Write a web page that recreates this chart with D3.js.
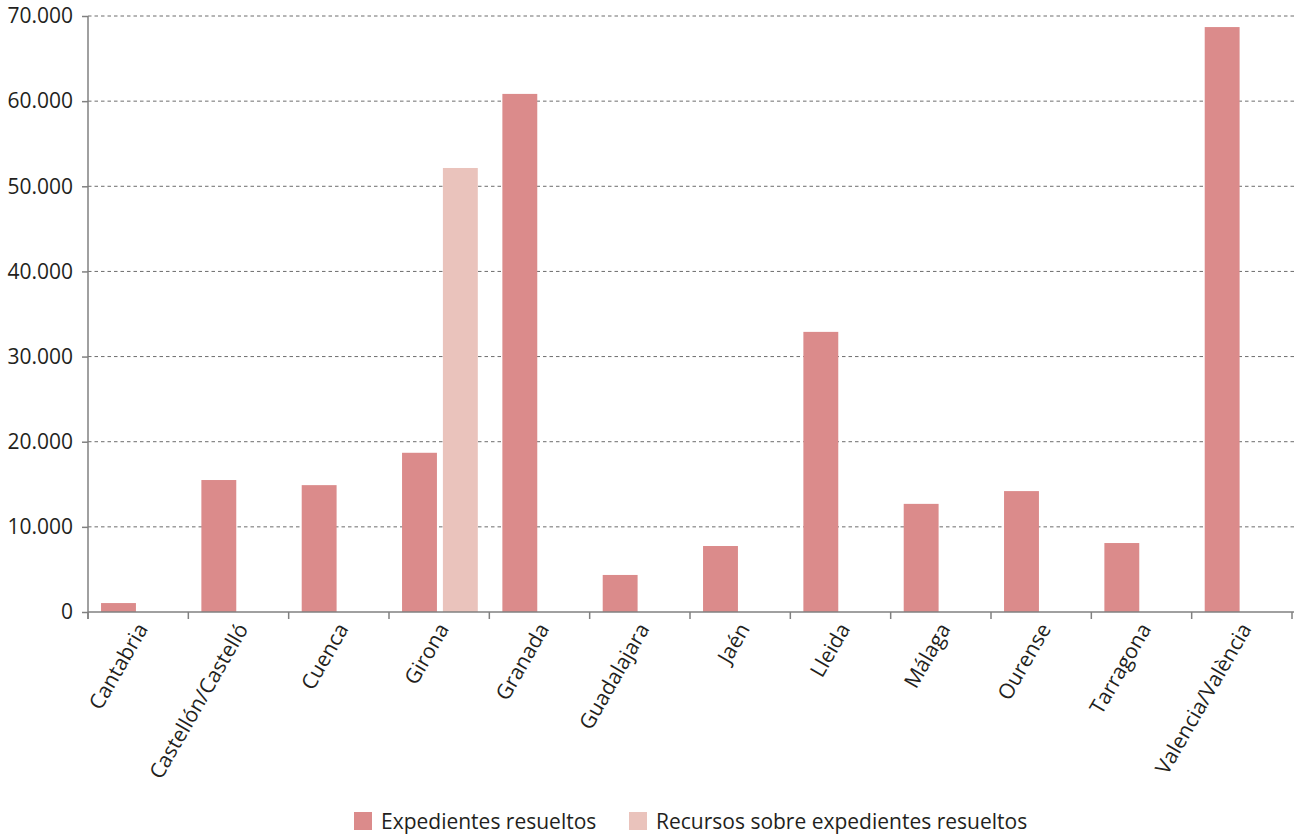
<!DOCTYPE html>
<html><head><meta charset="utf-8">
<script src="https://cdn.jsdelivr.net/npm/d3@7"></script>
<style>body{margin:0;background:#fff}svg{display:block}text{font-family:"Open Sans",sans-serif;fill:#231f20}</style>
</head><body><svg id="c" width="1294" height="836"></svg>
<script>
const categories = ["Cantabria","Castellón/Castelló","Cuenca","Girona","Granada","Guadalajara","Jaén","Lleida","Málaga","Ourense","Tarragona","Valencia/València"];
const seriesNames = ["Expedientes resueltos","Recursos sobre expedientes resueltos"];
const expedientes = [1050,15500,14900,18700,60850,4350,7750,32900,12700,14200,8100,68700];
const recursos = [0,0,0,52150,0,0,0,0,0,0,0,0];
const yTicks = [0,10000,20000,30000,40000,50000,60000,70000];
const colors = ["#db8b8b","#eac3bc"];

const svg = d3.select("#c");
const L=88, R=1292, T=16, B=612;
const FS = 21;
const x0 = d3.scaleBand().domain(categories).range([L,R]).padding(0);
const bw = x0.bandwidth();
const x1 = d3.scaleBand().domain(seriesNames).range([bw*0.13, bw*0.885]).paddingInner(0.146).paddingOuter(0);
const y = d3.scaleLinear().domain([0,70000]).range([B,T]);
const fmt = d => d3.format(",")(d).replace(/,/g,".");

// grid
svg.append("g").selectAll("line").data(yTicks.filter(d=>d>0)).join("line")
  .attr("x1",L).attr("x2",1294).attr("y1",d=>y(d)).attr("y2",d=>y(d))
  .attr("stroke","#6d6d6d").attr("stroke-width",1).attr("stroke-dasharray","3.5,3");

// bars
const data = categories.map((c,i)=>({c, v:[expedientes[i], recursos[i]]}));
const g = svg.append("g");
data.forEach(d=>{
  seriesNames.forEach((s,j)=>{
    if(d.v[j]>0) g.append("rect").attr("x",x0(d.c)+x1(s)).attr("width",x1.bandwidth())
      .attr("y",y(d.v[j])).attr("height",B-y(d.v[j])).attr("fill",colors[j]);
  });
});

// y axis
const ya = svg.append("g").attr("transform",`translate(${L},0)`)
  .call(d3.axisLeft(y).tickValues(yTicks).tickFormat(fmt).tickSize(6).tickSizeOuter(0));
ya.select(".domain").remove();
ya.selectAll(".tick line").attr("stroke","#808080").attr("stroke-width",1.5);
ya.selectAll(".tick text").attr("font-size",FS).attr("font-family","Open Sans").attr("fill","#231f20").attr("x",-15);
svg.append("line").attr("x1",L).attr("x2",L).attr("y1",T).attr("y2",B+7).attr("stroke","#808080").attr("stroke-width",1.5);

// x axis
const xa = svg.append("g").attr("transform",`translate(0,${B})`)
  .call(d3.axisBottom(x0).tickSize(0).tickSizeOuter(0));
xa.select(".domain").remove();
svg.append("line").attr("x1",L).attr("x2",1294).attr("y1",B).attr("y2",B).attr("stroke","#808080").attr("stroke-width",1.5);
svg.append("g").selectAll("line").data(categories.concat(["end"])).join("line")
  .attr("x1",(d,i)=>L+i*bw).attr("x2",(d,i)=>L+i*bw).attr("y1",B).attr("y2",B+7)
  .attr("stroke","#808080").attr("stroke-width",1.5);
xa.selectAll(".tick text").attr("font-size",FS).attr("font-family","Open Sans").attr("fill","#231f20")
  .attr("text-anchor","end").attr("dy","0.35em")
  .attr("transform","translate(4,13) rotate(-60)").attr("y",0).attr("x",0);

// legend
const leg = svg.append("g");
const lx = [354, 629];
seriesNames.forEach((s,j)=>{
  leg.append("rect").attr("x",lx[j]).attr("y",812).attr("width",18).attr("height",18).attr("fill",colors[j]);
  leg.append("text").attr("x",lx[j]+27).attr("y",829).attr("font-size",FS).text(s);
});
</script></body></html>
